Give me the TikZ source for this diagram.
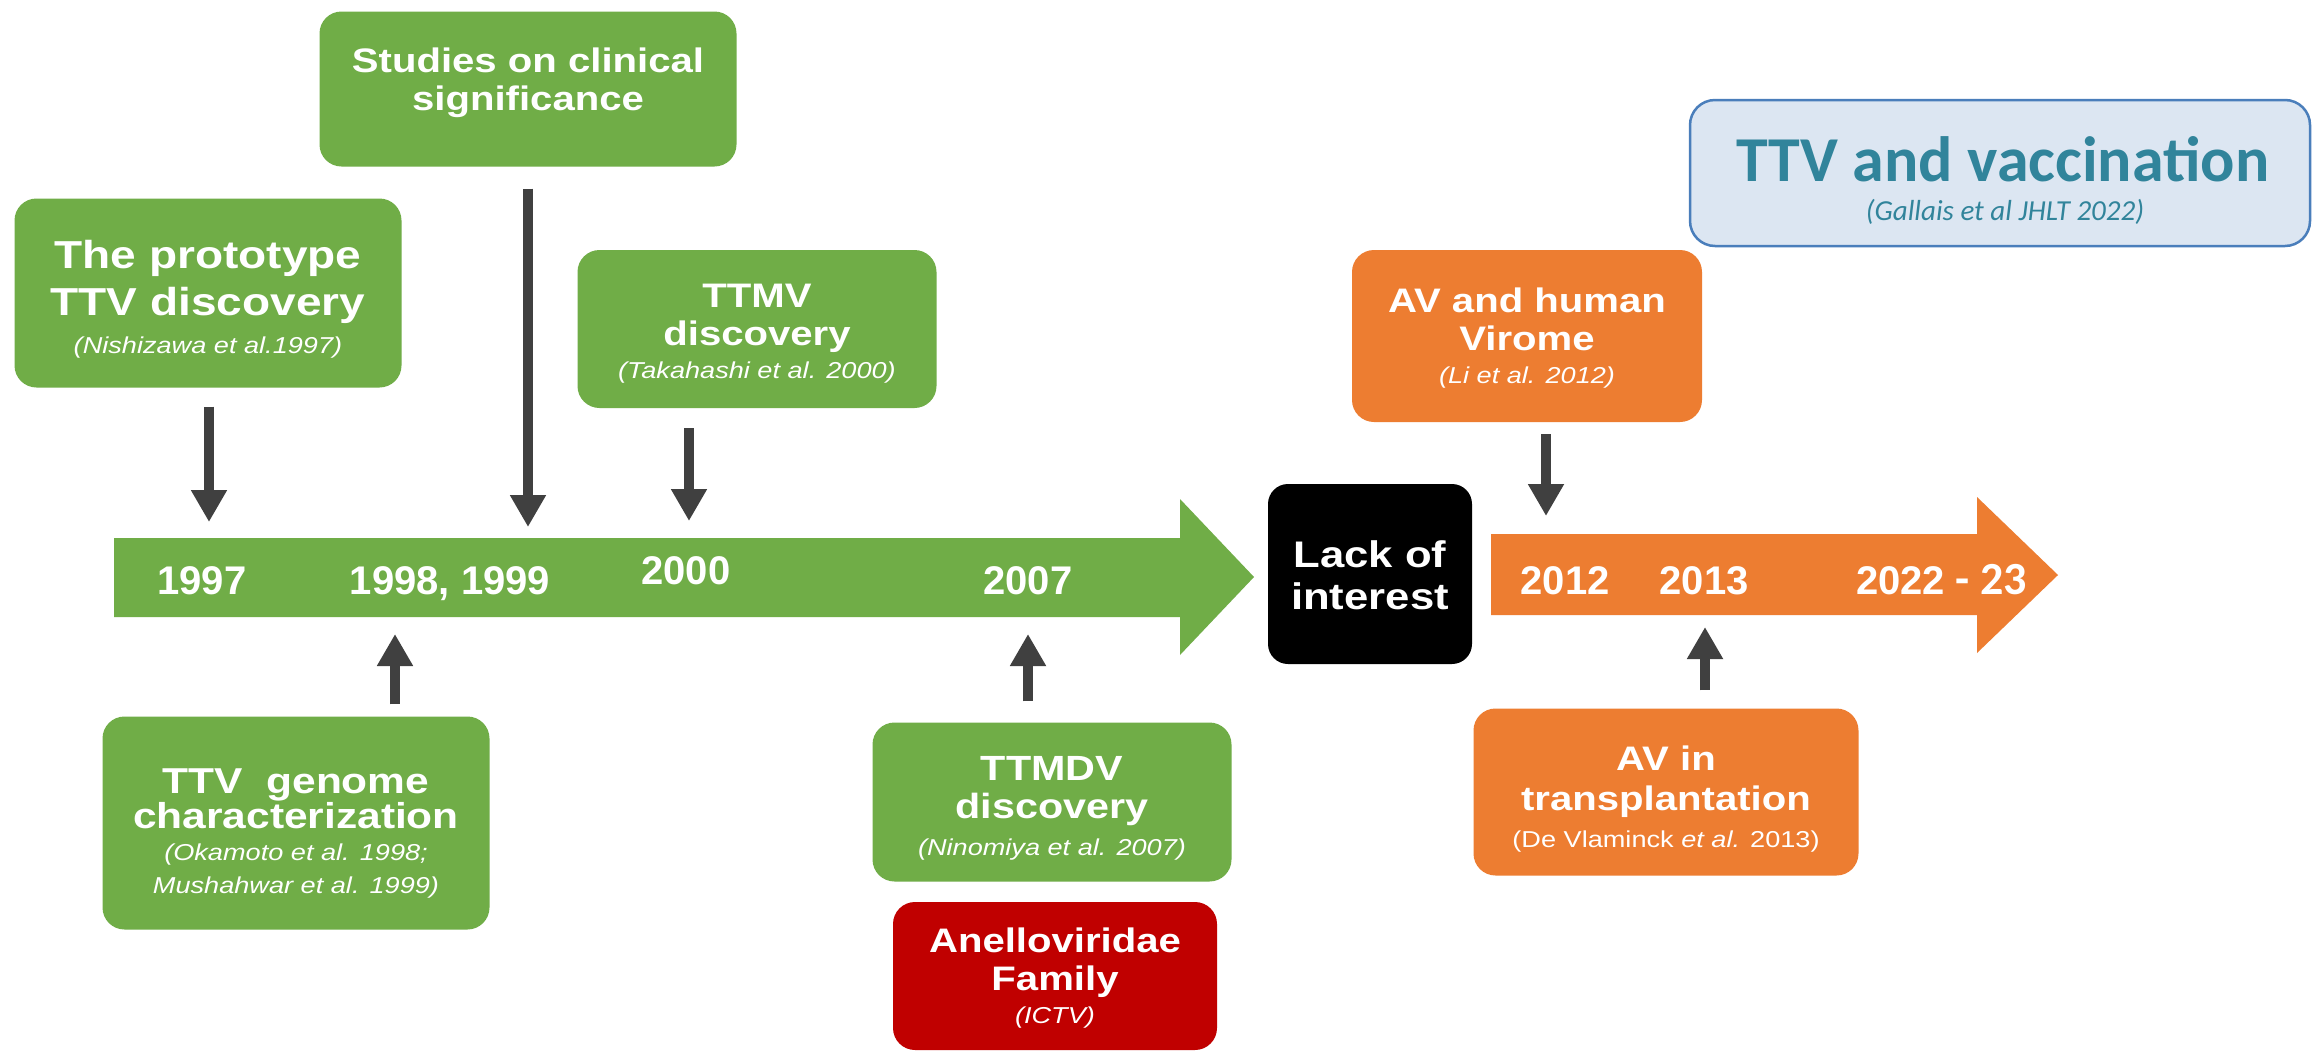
\documentclass[tikz,border=0pt]{standalone}
\usepackage{fontspec}
\setmainfont{Liberation Sans}
\newfontfamily\widesans[FakeStretch=1.18]{Liberation Sans}
\newfontfamily\calfont{Carlito}
\usetikzlibrary{arrows.meta}
\definecolor{tlgreen}{RGB}{112,173,71}
\definecolor{tlorange}{RGB}{237,125,49}
\definecolor{tlred}{RGB}{192,0,0}
\definecolor{arrgray}{RGB}{64,64,64}
\definecolor{ttvfill}{RGB}{220,230,242}
\definecolor{ttvdraw}{RGB}{74,126,187}
\definecolor{ttvtext}{RGB}{49,132,155}
\newcommand\smallcite[1]{{\mdseries\itshape\fontsize{23}{26}\selectfont #1}}
\begin{document}
\begin{tikzpicture}[x=1pt,y=-1pt,
  box/.style={rounded corners=22pt, inner sep=0pt},
  gbox/.style={box, fill=tlgreen},
  obox/.style={box, fill=tlorange},
  rbox/.style={box, fill=tlred},
  boxtext/.style={align=center, text=white, inner sep=0pt, anchor=base,
    font=\widesans\bfseries\fontsize{34}{38}\selectfont},
  darr/.style={draw=arrgray, line width=10pt, -{Triangle[width=34pt,length=32pt]}},
  yearlbl/.style={text=white, inner sep=0pt, anchor=base, font=\bfseries\fontsize{40}{44}\selectfont}
]
\useasboundingbox[fill=white] (0,0) rectangle (2313,1055);

% timeline arrows
\fill[tlgreen] (114,538) -- (1180,538) -- (1180,499) -- (1254,577) -- (1180,655) -- (1180,617) -- (114,617) -- cycle;
\fill[tlorange] (1491,534) -- (1977,534) -- (1977,497) -- (2058,575) -- (1977,653) -- (1977,615) -- (1491,615) -- cycle;

% boxes (text nodes anchored at the baseline of their last line)
\node[gbox, minimum width=387pt, minimum height=189pt] (proto) at (208,293) {};
\node[boxtext, font=\widesans\bfseries\fontsize{39}{47}\selectfont] (protot) at (208,353)
  {The prototype\\TTV discovery\\[-9pt]\smallcite{(Nishizawa et al.1997)}};

\node[gbox, minimum width=417pt, minimum height=155pt] (studies) at (528,89) {};
\node[boxtext] (studiest) at (528,110) {Studies on clinical\\significance};

\node[gbox, minimum width=359pt, minimum height=158pt] (ttmv) at (757,329) {};
\node[boxtext] (ttmvt) at (757,378) {TTMV\\discovery\\[-5pt]\smallcite{(Takahashi et al. 2000)}};

\node[obox, minimum width=350pt, minimum height=172pt] (avh) at (1527,336) {};
\node[boxtext] (avht) at (1527,383) {AV and human\\Virome\\[-5pt]\smallcite{(Li et al. 2012)}};

\node[gbox, minimum width=387pt, minimum height=213pt] (genome) at (296,823) {};
\node[boxtext, font=\widesans\bfseries\fontsize{36}{38}\selectfont] (genomet) at (296,893)
  {TTV\ \ genome\\[-3pt]characterization\\[-6pt]\smallcite{(Okamoto et al. 1998;}\\[-5pt]\smallcite{Mushahwar et al. 1999)}};

\node[gbox, minimum width=359pt, minimum height=159pt] (ttmdv) at (1052,802) {};
\node[boxtext, font=\widesans\bfseries\fontsize{35}{38}\selectfont] (ttmdvt) at (1052,855)
  {TTMDV\\discovery\\[-1pt]\smallcite{(Ninomiya et al. 2007)}};

\node[rbox, minimum width=324pt, minimum height=148pt] (anello) at (1055,976) {};
\node[boxtext] (anellot) at (1055,1023) {Anelloviridae\\Family\\[-5pt]\smallcite{(ICTV)}};

\node[obox, minimum width=385pt, minimum height=167pt] (avt) at (1666,792) {};
\node[boxtext] (avtt) at (1666,847)
  {AV in\\[2pt]transplantation\\[-1pt]{\mdseries\fontsize{23}{26}\selectfont (De Vlaminck \textit{et al.} 2013)}};

\node[box, fill=black, rounded corners=20pt, minimum width=204pt, minimum height=180pt] (lack) at (1370,574) {};
\node[boxtext, font=\widesans\bfseries\fontsize{37}{42}\selectfont] (lackt) at (1370,609) {Lack of\\interest};

% TTV and vaccination
\node[draw=ttvdraw, line width=2.5pt, fill=ttvfill, rounded corners=25pt, minimum width=620pt, minimum height=146pt] (ttv) at (2000,173) {};
\node[align=center, text=ttvtext, inner sep=0pt, anchor=base] (ttvtitle) at (2003,181)
  {\calfont\bfseries\fontsize{64}{70}\selectfont TTV and vaccination};
\node[text=ttvtext, inner sep=0pt, anchor=base] (ttvsub) at (2005,220)
  {\calfont\itshape\fontsize{29}{32}\selectfont (Gallais et al JHLT 2022)};

% years
\node[yearlbl] (y97) at (202,594) {1997};
\node[yearlbl] (y9899) at (450,594) {1998, 1999};
\node[yearlbl] (y00) at (686,584) {2000};
\node[yearlbl] (y07) at (1028,594) {2007};
\node[yearlbl] (y12) at (1565,594) {2012};
\node[yearlbl] (y13) at (1704,594) {2013};
\node[yearlbl, anchor=base west] (y22) at (1856,594) {2022{\calfont\bfseries\fontsize{46}{50}\selectfont\ -\ 23}};

% arrow tips
\coordinate (t97) at (209,522);
\coordinate (tst) at (528,527);
\coordinate (t00) at (689,521);
\coordinate (t12) at (1546,516);
\coordinate (t98) at (395,634);
\coordinate (t07) at (1028,634);
\coordinate (t13) at (1705,627);

\draw[darr, shorten <=19pt] (proto.south -| t97) -- (t97);
\draw[darr, shorten <=22pt] (studies.south -| tst) -- (tst);
\draw[darr, shorten <=20pt] (ttmv.south -| t00) -- (t00);
\draw[darr, shorten <=12pt] (avh.south -| t12) -- (t12);
\draw[darr, shorten <=12pt] (genome.north -| t98) -- (t98);
\draw[darr, shorten <=21pt] (ttmdv.north -| t07) -- (t07);
\draw[darr, shorten <=18pt] (avt.north -| t13) -- (t13);
\end{tikzpicture}
\end{document}
